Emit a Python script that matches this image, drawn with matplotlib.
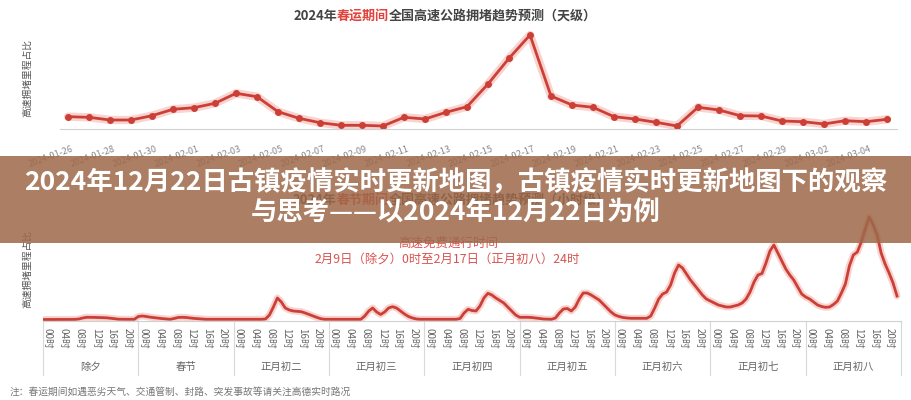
import numpy as np
import matplotlib
matplotlib.use('Agg')
import matplotlib.pyplot as plt
from matplotlib.patches import Rectangle
from matplotlib.transforms import ScaledTranslation

plt.rcParams['font.family'] = ['Noto Sans CJK SC', 'DejaVu Sans']

# 天级数据 2024-01-26 ~ 2024-03-05
day_values = [12.3, 11.7, 9, 9, 13.3, 19.7, 21.3, 25.7, 35.7, 32.3,
              17.3, 10.7, 6.3, 3.7, 3.7, 3, 11.7, 10, 16.7, 22.3,
              45, 70.7, 94, 33, 24, 21.7, 12.3, 10, 6.7, 3,
              21.7, 19, 13.3, 13, 8, 7.3, 5, 8.3, 7.3, 9.7]
day_ticks = ['2024-01-26', '2024-01-28', '2024-01-30', '2024-02-01', '2024-02-03',
             '2024-02-05', '2024-02-07', '2024-02-09', '2024-02-11', '2024-02-13',
             '2024-02-15', '2024-02-17', '2024-02-19', '2024-02-21', '2024-02-23',
             '2024-02-25', '2024-02-27', '2024-02-29', '2024-03-02', '2024-03-04']

# 小时级数据 (除夕 ~ 正月初八, 每天24小时)
chuxi = [1.5, 1.5, 1.5, 1.5, 1.5, 1.5, 1.5, 1.5, 1.6, 2, 3, 3.7, 3.7, 3.6, 3.5, 3.4, 3.2, 2.8, 2.3, 1.8, 1.7, 1.7, 1.7, 1.7]
chunjie = [4.5, 5, 4.5, 3.8, 3.3, 2.8, 2.4, 2, 1.7, 2.5, 3.5, 3.7, 3.5, 3, 2.6, 2.3, 2, 1.7, 1.7, 1.7, 1.7, 1.7, 1.7, 1.7]
chu2 = [1.7, 1.7, 1.7, 1.7, 1.7, 1.7, 1.7, 1.7, 2, 6, 14, 23, 19, 13, 11, 10, 9.7, 9.3, 8, 6.5, 5, 3.5, 2.2, 1.7]
chu3 = [1.7, 1.7, 1.7, 1.7, 1.7, 1.7, 1.7, 1.7, 1.7, 5, 10, 13, 9, 6.5, 9, 13, 14.3, 13, 10, 7, 4.5, 3, 2, 1.7]
chu4 = [1.7, 1.7, 1.7, 1.7, 1.7, 1.7, 1.7, 1.7, 1.7, 2.5, 8, 11.7, 10.5, 10, 15, 23, 27.7, 26, 23, 20.5, 18, 14, 10, 6]
chu5 = [3.7, 3.7, 3.7, 3.5, 3, 2.5, 2, 1.8, 1.7, 3, 8, 12, 12.5, 10, 14, 22, 28, 28, 26, 23.5, 21, 17, 13, 9]
chu6 = [6, 4.5, 3.5, 3, 2.7, 2.7, 2.7, 2.7, 2.7, 5, 13, 22, 27, 29, 36, 48, 56, 53, 47, 41, 36, 31, 26, 22]
chu7 = [20, 18, 16, 15, 14, 14, 15, 16, 18, 22, 29, 39, 46, 47.5, 58, 70, 76, 68, 60, 52, 46, 41, 34, 27]
chu8 = [24, 22, 19, 16, 14.5, 13.7, 14, 16.5, 20, 28, 37, 55, 66, 69, 79, 92, 104, 96, 86, 68, 57, 48, 38, 25]
day_names = ['除夕', '春节', '正月初二', '正月初三', '正月初四', '正月初五', '正月初六', '正月初七', '正月初八']
hour_marks = [0, 4, 8, 12, 16, 20]
hour_labels = ['00时', '04时', '08时', '12时', '16时', '20时']

RED = '#cc3f36'
GLOW = '#f2a9a2'
TITLE_RED = '#e0443c'
W, H = 912, 400

fig = plt.figure(figsize=(9.12, 4), dpi=100)


def box(l, t, r, b):
    return [l / W, 1 - b / H, (r - l) / W, (b - t) / H]


def colored_line(xc, yc, parts, **kw):
    # 多种颜色拼成一行居中的标题
    renderer = fig.canvas.get_renderer()
    texts = [fig.text(0, 1 - yc / H, s, color=c, va='center', **kw) for s, c in parts]
    widths = [t.get_window_extent(renderer).width for t in texts]
    x = xc - sum(widths) / 2
    for t, w in zip(texts, widths):
        t.set_x(x / W)
        x += w


# ---- 上图：天级 ----
ax1 = fig.add_axes(box(60, 30, 897, 129))
x1 = np.arange(len(day_values))
ax1.plot(x1, day_values, color=GLOW, lw=6, alpha=0.5, solid_capstyle='round')
ax1.plot(x1, day_values, color=RED, lw=2, marker='o', ms=4)
ax1.set_xlim(-8 / 21, len(day_values) - 1 + 10 / 21)
ax1.set_ylim(0, 99)
ax1.set_xticks(x1[::2], day_ticks, rotation=20, ha='right', va='center',
               rotation_mode='anchor', fontsize=6.5, color='#888888')
ax1.tick_params(axis='x', length=0, pad=14)
ax1.set_yticks([])
for s in ['top', 'right', 'left']:
    ax1.spines[s].set_visible(False)
ax1.spines['bottom'].set_color('#d0d0d0')
shift = ScaledTranslation(5 / 100, 0, fig.dpi_scale_trans)
for lab in ax1.get_xticklabels():
    lab.set_transform(lab.get_transform() + shift)

colored_line(445, 16, [('2024年', '#444444'), ('春运期间', TITLE_RED),
                       ('全国高速公路拥堵趋势预测（天级）', '#444444')],
             fontsize=9.4, fontweight='bold')
fig.text(27 / W, 1 - 78 / H, '高速拥堵里程占比', rotation=90, ha='center', va='center',
         fontsize=7, color='#555555')

# ---- 下图：小时级 ----
hourly = np.concatenate([chuxi, chunjie, chu2, chu3, chu4, chu5, chu6, chu7, chu8])
ax2 = fig.add_axes(box(43, 210, 901, 321))
x2 = np.arange(len(hourly))
ax2.plot(x2, hourly, color=GLOW, lw=5, alpha=0.5, solid_capstyle='round')
ax2.plot(x2, hourly, color=RED, lw=2)
ax2.set_xlim(0, 24 * len(day_names))
ax2.set_ylim(0, 111)
ticks = [d * 24 + h for d in range(len(day_names)) for h in hour_marks]
ax2.set_xticks(ticks, hour_labels * len(day_names), rotation=-90, ha='left', va='top',
               fontsize=7, color='#666666')
ax2.tick_params(axis='x', length=0, pad=5)
ax2.set_yticks([])
for s in ['top', 'right', 'left']:
    ax2.spines[s].set_visible(False)
ax2.spines['bottom'].set_color('#d0d0d0')
xt = ax2.get_xaxis_transform()
for d in range(len(day_names) + 1):
    ax2.plot([d * 24, d * 24], [0, -54 / 111], transform=xt, clip_on=False,
             color='#d9d9d9', lw=0.8)
for d, name in enumerate(day_names):
    ax2.text(d * 24 + 12, -46 / 111, name, transform=xt, ha='center', va='center',
             fontsize=7.5, color='#666666')

colored_line(451, 200, [('2024年', '#444444'), ('春节期间', TITLE_RED),
                        ('全国高速公路拥堵趋势预测（小时级）', '#444444')],
             fontsize=9.4, fontweight='bold')
fig.text(27 / W, 1 - 269 / H, '高速拥堵里程占比', rotation=90, ha='center', va='center',
         fontsize=7, color='#555555')
fig.text(448 / W, 1 - 243 / H, '高速免费通行时间', ha='center', va='center',
         fontsize=9, color='#d9534f')
fig.text(447 / W, 1 - 260 / H, '2月9日（除夕）0时至2月17日（正月初八）24时', ha='center',
         va='center', fontsize=8.9, color='#d9534f')
fig.text(10 / W, 1 - 392 / H, '注：春运期间如遇恶劣天气、交通管制、封路、突发事故等请关注高德实时路况',
         ha='left', va='center', fontsize=7, color='#777777')

# ---- 标题横幅 ----
fig.add_artist(Rectangle((0, 1 - 243 / H), 1, 87 / H, transform=fig.transFigure,
                         facecolor=(0.62, 0.41, 0.29), edgecolor='none', alpha=0.85, zorder=5))
fig.text(0.5, 1 - 183 / H, '2024年12月22日古镇疫情实时更新地图，古镇疫情实时更新地图下的观察',
         ha='center', va='center', fontsize=19, fontweight='bold', color='white', zorder=6)
fig.text(0.5, 1 - 213 / H, '与思考——以2024年12月22日为例',
         ha='center', va='center', fontsize=19, fontweight='bold', color='white', zorder=6)

fig.savefig('out.png', dpi=100)
